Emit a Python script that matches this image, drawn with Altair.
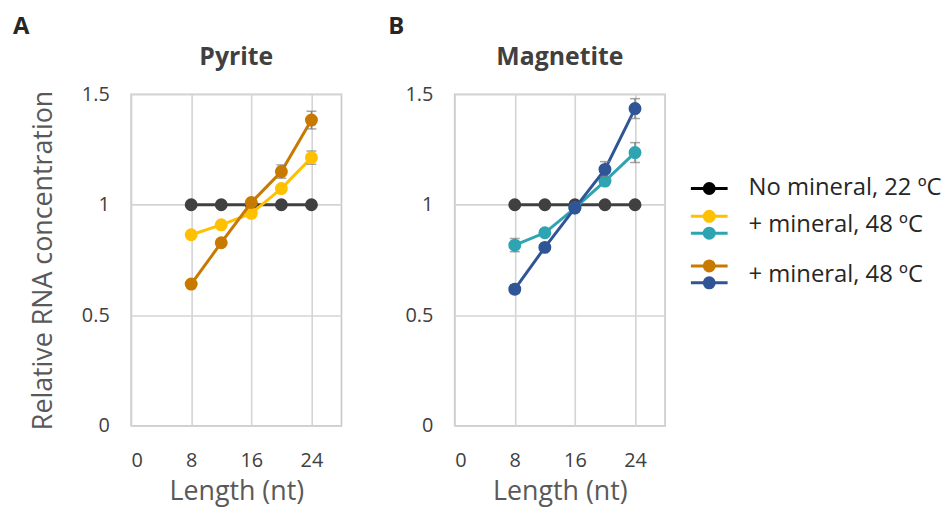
import altair as alt
import pandas as pd

# ---- data ----
lengths = [8, 12, 16, 20, 24]

pyrite_ctrl = [1.0, 1.0, 1.0, 1.0, 1.0]
pyrite_yellow = [0.864, 0.909, 0.961, 1.073, 1.213]
pyrite_yellow_err = [0.01, 0.01, 0.01, 0.012, 0.03]
pyrite_orange = [0.641, 0.828, 1.010, 1.150, 1.383]
pyrite_orange_err = [0.01, 0.01, 0.01, 0.03, 0.04]

magn_ctrl = [1.0, 1.0, 1.0, 1.0, 1.0]
magn_teal = [0.817, 0.873, 0.985, 1.107, 1.236]
magn_teal_err = [0.03, 0.01, 0.01, 0.015, 0.045]
magn_blue = [0.618, 0.807, 0.985, 1.160, 1.435]
magn_blue_err = [0.02, 0.01, 0.01, 0.035, 0.045]

panel_titles = ["Pyrite", "Magnetite"]
panel_letters = ["A", "B"]
legend_labels = ["No mineral, 22 ºC", "+ mineral, 48 ºC", "+ mineral, 48 ºC"]

C_BLACK = "#404040"
C_YELLOW = "#FFC000"
C_ORANGE = "#C87A00"
C_TEAL = "#2EA3B2"
C_BLUE = "#2F5597"

SERIES = ["ctrl", "p48a", "p48b", "m48a", "m48b"]
COLORS = [C_BLACK, C_YELLOW, C_ORANGE, C_TEAL, C_BLUE]

FONT = "Open Sans"
LABEL_C = "#404040"
TITLE_C = "#595959"


def make_df(ctrl, s1, e1, s2, e2, n1, n2):
    rows = []
    for x, v in zip(lengths, ctrl):
        rows.append(dict(len=x, val=v, err=0.0, series="ctrl"))
    for x, v, e in zip(lengths, s1, e1):
        rows.append(dict(len=x, val=v, err=e, series=n1))
    for x, v, e in zip(lengths, s2, e2):
        rows.append(dict(len=x, val=v, err=e, series=n2))
    df = pd.DataFrame(rows)
    df["lo"] = df["val"] - df["err"]
    df["hi"] = df["val"] + df["err"]
    return df


def text_mark(t, x, y, size, weight="normal", color="#262626", align="left"):
    return alt.Chart(pd.DataFrame({"t": [t]})).mark_text(
        font=FONT, fontSize=size, fontWeight=weight, color=color, align=align, baseline="middle"
    ).encode(text="t:N", x=alt.value(x), y=alt.value(y))


def panel(df, names, title, letter, first):
    xs = alt.Scale(domain=[0, 28], nice=False)
    ys = alt.Scale(domain=[0, 1.5], nice=False)
    col = alt.Color("series:N", scale=alt.Scale(domain=SERIES, range=COLORS), legend=None)
    xax = alt.Axis(values=[0, 8, 16, 24], title="Length (nt)", grid=True, gridColor="#D4D4D4",
                   gridWidth=1.6, domain=False, ticks=False, labelPadding=25, titlePadding=8,
                   titleFontSize=27)
    yax = alt.Axis(values=[0, 0.5, 1, 1.5], format="~g", grid=True, gridColor="#D4D4D4",
                   gridWidth=1.6, domain=False, ticks=False, labelPadding=22,
                   title="Relative RNA concentration" if first else None, titlePadding=24,
                   titleFontSize=27)
    base = alt.Chart(df)
    layers = []
    for name in names:
        d = base.transform_filter(alt.datum.series == name)
        line = d.mark_line(strokeWidth=3).encode(
            x=alt.X("len:Q", scale=xs, axis=xax),
            y=alt.Y("val:Q", scale=ys, axis=yax),
            color=col)
        err = d.mark_rule(color="#7F7F7F", strokeWidth=1.5).encode(
            x="len:Q", y="lo:Q", y2="hi:Q")
        caps_lo = d.mark_tick(color="#7F7F7F", orient="horizontal", size=10, thickness=1.5).encode(
            x="len:Q", y="lo:Q")
        caps_hi = d.mark_tick(color="#7F7F7F", orient="horizontal", size=10, thickness=1.5).encode(
            x="len:Q", y="hi:Q")
        pts = d.mark_circle(size=170, opacity=1).encode(x="len:Q", y="val:Q", color=col)
        layers += [line, err, caps_lo, caps_hi, pts]
    layers.append(text_mark(letter, -119 if first else -67, -68, 24, "bold"))
    layers.append(text_mark(title, 106, -37, 25, "bold", "#404040", "center"))

    if not first:
        # custom legend (double swatches for the two mineral series)
        swatches = [(95, "#000000"), (123, C_YELLOW), (140, C_TEAL), (173, C_ORANGE), (190, C_BLUE)]
        text_y = [95, 132, 182]
        one = pd.DataFrame({"k": [0]})
        for yy, c in swatches:
            layers.append(alt.Chart(one).mark_rule(color=c, strokeWidth=3).encode(
                x=alt.value(238), x2=alt.value(275), y=alt.value(yy)))
            layers.append(alt.Chart(one).mark_circle(color=c, size=170, opacity=1).encode(
                x=alt.value(256.5), y=alt.value(yy)))
        for yy, t in zip(text_y, legend_labels):
            layers.append(text_mark(t, 296, yy, 24))

    return alt.layer(*layers).properties(width=212, height=334)


dfA = make_df(pyrite_ctrl, pyrite_yellow, pyrite_yellow_err, pyrite_orange, pyrite_orange_err, "p48a", "p48b")
dfB = make_df(magn_ctrl, magn_teal, magn_teal_err, magn_blue, magn_blue_err, "m48a", "m48b")

A = panel(dfA, ["ctrl", "p48a", "p48b"], panel_titles[0], panel_letters[0], True)
B = panel(dfB, ["ctrl", "m48a", "m48b"], panel_titles[1], panel_letters[1], False)

chart = alt.hconcat(A, B, spacing=45).configure_view(
    stroke="#C8C8C8", strokeWidth=1.6
).configure_axis(
    labelFont=FONT, labelFontSize=20, labelColor=LABEL_C,
    titleFont=FONT, titleColor=TITLE_C, titleFontWeight="normal"
).properties(padding={"left": 4, "top": 4, "right": 0, "bottom": 0})

chart.save("out.html", embed_options={"renderer": "svg", "actions": False})
